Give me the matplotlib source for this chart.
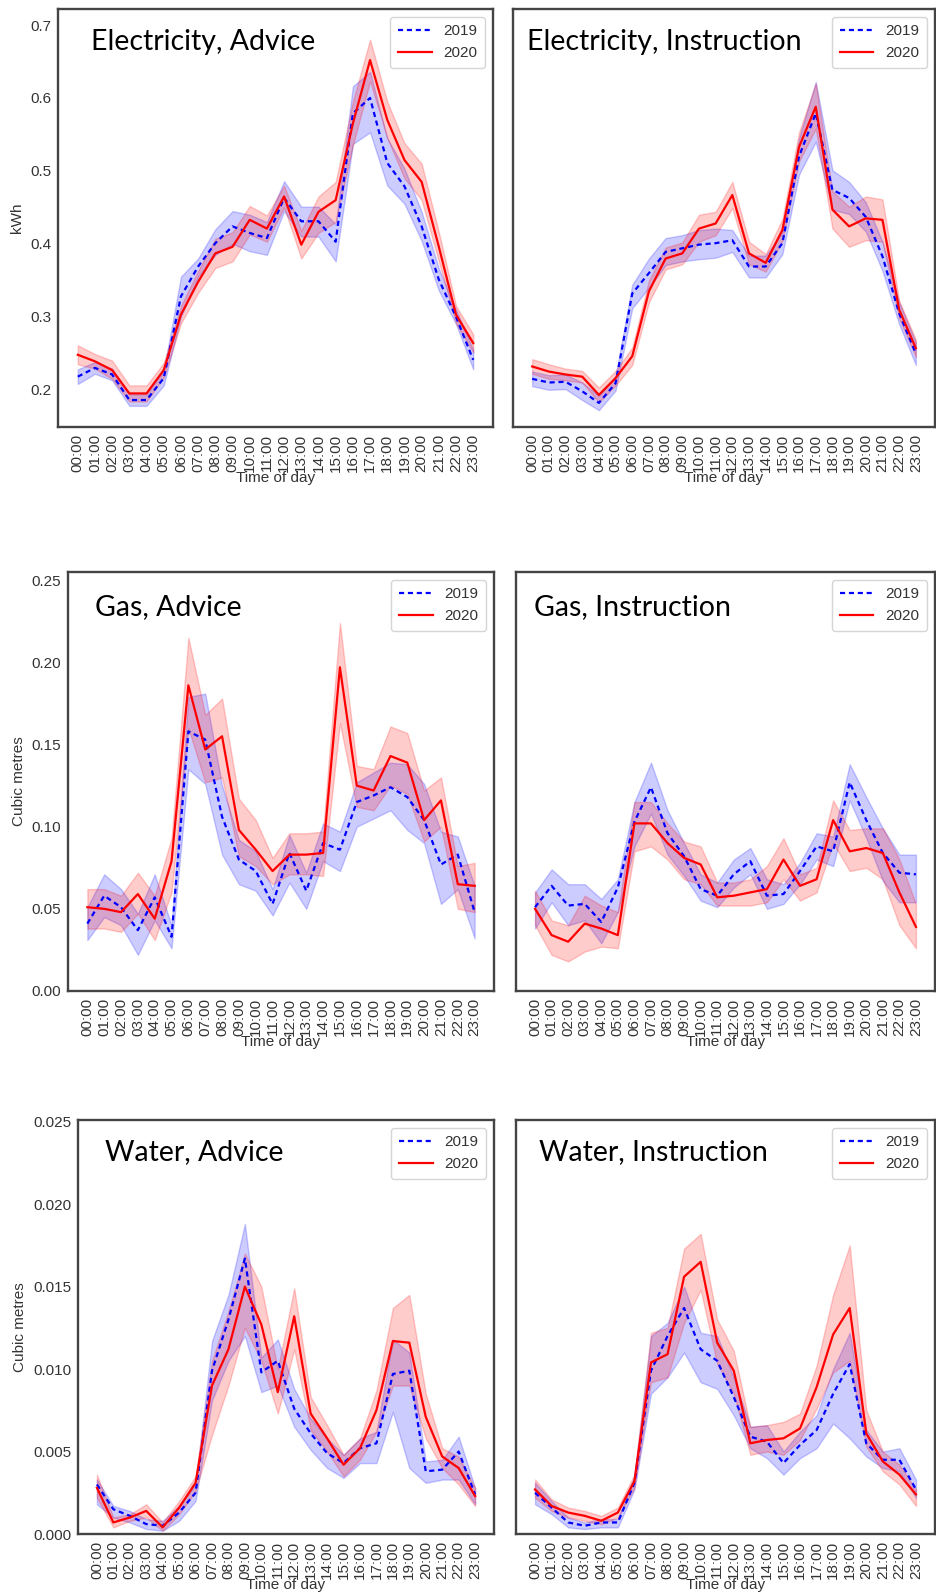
import matplotlib
matplotlib.use("Agg")
import matplotlib.pyplot as plt

# ======================
# STYLE
# ======================
plt.rcParams.update({
    "font.family": ["Liberation Sans", "DejaVu Sans"],
    "font.size": 11,
    "text.color": "#333333",
    "axes.labelcolor": "#333333",
    "xtick.color": "#333333",
    "ytick.color": "#333333",
    "axes.edgecolor": "#444444",
    "axes.linewidth": 1.7,
    "xtick.major.size": 0,
    "ytick.major.size": 0,
    "xtick.major.pad": 5,
    "ytick.major.pad": 5,
})
TITLE_FONT = "Lato"
DASHED = (0, (2.3, 1.7))

# ======================
# DATA
# ======================
hours = ["%02d:00" % h for h in range(24)]

# Electricity, Advice (kWh)
elec_adv_2019 = [0.218, 0.230, 0.221, 0.186, 0.186, 0.216, 0.328, 0.369, 0.401, 0.424, 0.415, 0.408,
                 0.463, 0.431, 0.431, 0.403, 0.579, 0.600, 0.511, 0.479, 0.424, 0.351, 0.300, 0.241]
elec_adv_2019_lo = [0.208, 0.222, 0.213, 0.178, 0.178, 0.206, 0.300, 0.355, 0.385, 0.400, 0.390, 0.385,
                    0.445, 0.410, 0.410, 0.376, 0.537, 0.553, 0.480, 0.455, 0.404, 0.336, 0.290, 0.228]
elec_adv_2019_hi = [0.228, 0.238, 0.229, 0.194, 0.194, 0.226, 0.355, 0.380, 0.420, 0.445, 0.440, 0.430,
                    0.486, 0.451, 0.451, 0.427, 0.616, 0.636, 0.545, 0.503, 0.444, 0.366, 0.310, 0.255]
elec_adv_2020 = [0.248, 0.239, 0.227, 0.195, 0.195, 0.227, 0.303, 0.348, 0.387, 0.396, 0.433, 0.421,
                 0.465, 0.399, 0.444, 0.460, 0.565, 0.652, 0.570, 0.515, 0.485, 0.396, 0.303, 0.264]
elec_adv_2020_lo = [0.235, 0.229, 0.215, 0.184, 0.184, 0.217, 0.291, 0.333, 0.367, 0.376, 0.413, 0.403,
                    0.450, 0.380, 0.415, 0.430, 0.535, 0.623, 0.545, 0.490, 0.460, 0.376, 0.291, 0.251]
elec_adv_2020_hi = [0.261, 0.249, 0.240, 0.206, 0.206, 0.237, 0.315, 0.363, 0.407, 0.416, 0.452, 0.439,
                    0.480, 0.418, 0.465, 0.485, 0.595, 0.680, 0.595, 0.538, 0.510, 0.416, 0.315, 0.276]

# Electricity, Instruction (kWh)
elec_ins_2019 = [0.215, 0.210, 0.211, 0.198, 0.182, 0.209, 0.332, 0.360, 0.389, 0.394, 0.399, 0.401,
                 0.405, 0.369, 0.369, 0.401, 0.520, 0.579, 0.474, 0.463, 0.437, 0.383, 0.305, 0.250]
elec_ins_2019_lo = [0.205, 0.200, 0.201, 0.186, 0.172, 0.199, 0.312, 0.340, 0.371, 0.376, 0.379, 0.381,
                    0.389, 0.354, 0.354, 0.386, 0.495, 0.540, 0.447, 0.441, 0.417, 0.363, 0.290, 0.234]
elec_ins_2019_hi = [0.225, 0.220, 0.221, 0.210, 0.192, 0.219, 0.344, 0.380, 0.408, 0.412, 0.419, 0.421,
                    0.419, 0.384, 0.384, 0.416, 0.545, 0.622, 0.501, 0.485, 0.457, 0.403, 0.320, 0.265]
elec_ins_2020 = [0.232, 0.225, 0.221, 0.218, 0.193, 0.216, 0.246, 0.335, 0.380, 0.387, 0.421, 0.428,
                 0.467, 0.387, 0.374, 0.419, 0.533, 0.588, 0.447, 0.424, 0.435, 0.433, 0.310, 0.257]
elec_ins_2020_lo = [0.222, 0.215, 0.213, 0.210, 0.183, 0.206, 0.234, 0.320, 0.365, 0.372, 0.403, 0.412,
                    0.449, 0.372, 0.362, 0.404, 0.513, 0.558, 0.421, 0.396, 0.405, 0.403, 0.298, 0.245]
elec_ins_2020_hi = [0.242, 0.235, 0.229, 0.226, 0.203, 0.226, 0.258, 0.350, 0.395, 0.402, 0.440, 0.444,
                    0.485, 0.403, 0.386, 0.434, 0.553, 0.620, 0.472, 0.451, 0.465, 0.461, 0.322, 0.269]

# Gas, Advice (cubic metres)
gas_adv_2019 = [0.041, 0.058, 0.051, 0.037, 0.057, 0.033, 0.158, 0.153, 0.106, 0.080, 0.073, 0.053,
                0.084, 0.061, 0.090, 0.086, 0.115, 0.119, 0.124, 0.118, 0.104, 0.077, 0.083, 0.048]
gas_adv_2019_lo = [0.031, 0.045, 0.040, 0.022, 0.043, 0.026, 0.135, 0.126, 0.083, 0.065, 0.061, 0.046,
                   0.066, 0.050, 0.079, 0.073, 0.100, 0.105, 0.110, 0.098, 0.090, 0.053, 0.062, 0.032]
gas_adv_2019_hi = [0.051, 0.071, 0.062, 0.047, 0.071, 0.040, 0.179, 0.181, 0.125, 0.092, 0.085, 0.062,
                   0.095, 0.072, 0.102, 0.097, 0.127, 0.133, 0.139, 0.138, 0.126, 0.097, 0.094, 0.064]
gas_adv_2020 = [0.051, 0.050, 0.048, 0.059, 0.044, 0.079, 0.186, 0.147, 0.155, 0.098, 0.086, 0.073,
                0.083, 0.083, 0.084, 0.197, 0.125, 0.122, 0.143, 0.139, 0.104, 0.116, 0.065, 0.064]
gas_adv_2020_lo = [0.038, 0.038, 0.036, 0.047, 0.031, 0.060, 0.160, 0.127, 0.130, 0.082, 0.076, 0.065,
                   0.071, 0.071, 0.070, 0.163, 0.112, 0.110, 0.125, 0.120, 0.091, 0.100, 0.050, 0.048]
gas_adv_2020_hi = [0.062, 0.062, 0.058, 0.072, 0.058, 0.093, 0.215, 0.168, 0.178, 0.117, 0.104, 0.081,
                   0.096, 0.096, 0.097, 0.224, 0.137, 0.135, 0.161, 0.157, 0.122, 0.130, 0.076, 0.078]

# Gas, Instruction (cubic metres)
gas_ins_2019 = [0.051, 0.064, 0.052, 0.053, 0.042, 0.063, 0.103, 0.124, 0.096, 0.082, 0.062, 0.058,
                0.071, 0.079, 0.058, 0.059, 0.073, 0.088, 0.085, 0.127, 0.104, 0.084, 0.072, 0.071]
gas_ins_2019_lo = [0.038, 0.054, 0.040, 0.043, 0.029, 0.048, 0.088, 0.108, 0.083, 0.070, 0.055, 0.051,
                   0.063, 0.071, 0.050, 0.053, 0.065, 0.080, 0.076, 0.116, 0.093, 0.067, 0.054, 0.054]
gas_ins_2019_hi = [0.060, 0.074, 0.065, 0.065, 0.056, 0.068, 0.115, 0.139, 0.110, 0.090, 0.071, 0.066,
                   0.080, 0.087, 0.068, 0.065, 0.078, 0.096, 0.094, 0.138, 0.118, 0.099, 0.083, 0.083]
gas_ins_2020 = [0.050, 0.034, 0.030, 0.041, 0.038, 0.034, 0.102, 0.102, 0.090, 0.081, 0.077, 0.057,
                0.058, 0.060, 0.062, 0.080, 0.064, 0.068, 0.104, 0.085, 0.087, 0.084, 0.060, 0.039]
gas_ins_2020_lo = [0.040, 0.022, 0.018, 0.024, 0.027, 0.026, 0.085, 0.088, 0.080, 0.068, 0.065, 0.052,
                   0.052, 0.052, 0.054, 0.068, 0.055, 0.060, 0.090, 0.073, 0.075, 0.068, 0.040, 0.026]
gas_ins_2020_hi = [0.061, 0.043, 0.040, 0.058, 0.052, 0.048, 0.115, 0.115, 0.102, 0.091, 0.088, 0.066,
                   0.066, 0.068, 0.076, 0.093, 0.071, 0.075, 0.116, 0.098, 0.099, 0.099, 0.080, 0.053]

# Water, Advice (cubic metres)
water_adv_2019 = [0.0030, 0.0015, 0.0011, 0.0006, 0.0005, 0.0013, 0.0025, 0.0099, 0.0130, 0.0167, 0.0098, 0.0105,
                  0.0076, 0.0061, 0.0049, 0.0043, 0.0052, 0.0055, 0.0097, 0.0099, 0.0038, 0.0039, 0.0050, 0.0024]
water_adv_2019_lo = [0.0018, 0.0010, 0.0007, 0.0003, 0.0002, 0.0008, 0.0020, 0.0081, 0.0105, 0.0120, 0.0086, 0.0090,
                     0.0065, 0.0051, 0.0040, 0.0034, 0.0043, 0.0043, 0.0074, 0.0040, 0.0031, 0.0033, 0.0033, 0.0018]
water_adv_2019_hi = [0.0033, 0.0017, 0.0014, 0.0009, 0.0008, 0.0017, 0.0030, 0.0117, 0.0145, 0.0188, 0.0107, 0.0118,
                     0.0088, 0.0070, 0.0058, 0.0048, 0.0058, 0.0062, 0.0118, 0.0110, 0.0044, 0.0045, 0.0059, 0.0028]
water_adv_2020 = [0.0028, 0.0007, 0.0010, 0.0014, 0.0004, 0.0016, 0.0031, 0.0090, 0.0112, 0.0150, 0.0127, 0.0086,
                  0.0132, 0.0073, 0.0058, 0.0042, 0.0052, 0.0075, 0.0117, 0.0116, 0.0071, 0.0047, 0.0040, 0.0023]
water_adv_2020_lo = [0.0022, 0.0004, 0.0008, 0.0010, 0.0002, 0.0012, 0.0026, 0.0060, 0.0090, 0.0125, 0.0105, 0.0073,
                     0.0112, 0.0063, 0.0050, 0.0035, 0.0045, 0.0062, 0.0090, 0.0090, 0.0058, 0.0040, 0.0030, 0.0017]
water_adv_2020_hi = [0.0036, 0.0010, 0.0012, 0.0018, 0.0007, 0.0020, 0.0035, 0.0105, 0.0135, 0.0170, 0.0150, 0.0100,
                     0.0149, 0.0083, 0.0066, 0.0048, 0.0058, 0.0087, 0.0137, 0.0145, 0.0085, 0.0052, 0.0047, 0.0028]

# Water, Instruction (cubic metres)
water_ins_2019 = [0.0025, 0.0016, 0.0007, 0.0005, 0.0007, 0.0007, 0.0031, 0.0099, 0.0120, 0.0137, 0.0112, 0.0105,
                  0.0083, 0.0059, 0.0056, 0.0043, 0.0054, 0.0063, 0.0085, 0.0103, 0.0055, 0.0045, 0.0045, 0.0027]
water_ins_2019_lo = [0.0018, 0.0012, 0.0004, 0.0003, 0.0004, 0.0004, 0.0027, 0.0085, 0.0095, 0.0110, 0.0092, 0.0088,
                     0.0072, 0.0052, 0.0046, 0.0036, 0.0046, 0.0052, 0.0067, 0.0058, 0.0047, 0.0040, 0.0038, 0.0022]
water_ins_2019_hi = [0.0031, 0.0020, 0.0010, 0.0007, 0.0009, 0.0009, 0.0035, 0.0120, 0.0128, 0.0150, 0.0122, 0.0120,
                     0.0095, 0.0065, 0.0066, 0.0050, 0.0062, 0.0072, 0.0100, 0.0122, 0.0063, 0.0050, 0.0052, 0.0033]
water_ins_2020 = [0.0027, 0.0017, 0.0013, 0.0011, 0.0008, 0.0013, 0.0032, 0.0104, 0.0109, 0.0156, 0.0165, 0.0116,
                  0.0099, 0.0055, 0.0057, 0.0058, 0.0064, 0.0089, 0.0121, 0.0137, 0.0061, 0.0044, 0.0036, 0.0024]
water_ins_2020_lo = [0.0022, 0.0014, 0.0010, 0.0008, 0.0006, 0.0010, 0.0028, 0.0092, 0.0095, 0.0128, 0.0148, 0.0103,
                     0.0085, 0.0048, 0.0050, 0.0048, 0.0057, 0.0076, 0.0098, 0.0105, 0.0053, 0.0038, 0.0030, 0.0017]
water_ins_2020_hi = [0.0033, 0.0021, 0.0016, 0.0014, 0.0011, 0.0016, 0.0036, 0.0122, 0.0125, 0.0173, 0.0182, 0.0130,
                     0.0111, 0.0065, 0.0066, 0.0068, 0.0073, 0.0102, 0.0145, 0.0175, 0.0075, 0.0050, 0.0042, 0.0027]

# ======================
# LAYOUT
# ======================
W, H = 937, 1595
fig = plt.figure(figsize=(W / 100, H / 100), dpi=100)


def px_axes(left, top, right, bottom):
    # axes box given in pixel edges, measured from the top-left corner
    return fig.add_axes([left / W, 1 - bottom / H, (right - left) / W, (bottom - top) / H])


# (box, title, title x, title baseline, ylabel, ylim, series)
panels = [
    ((58, 9, 493, 427), "Electricity, Advice", 0.076, 0.902, "kWh", (0.149, 0.722),
     (elec_adv_2019, elec_adv_2019_lo, elec_adv_2019_hi, elec_adv_2020, elec_adv_2020_lo, elec_adv_2020_hi)),
    ((513, 9, 935, 427), "Electricity, Instruction", 0.033, 0.902, None, (0.149, 0.722),
     (elec_ins_2019, elec_ins_2019_lo, elec_ins_2019_hi, elec_ins_2020, elec_ins_2020_lo, elec_ins_2020_hi)),
    ((68, 572, 494, 991), "Gas, Advice", 0.063, 0.897, "Cubic metres", (0, 0.255),
     (gas_adv_2019, gas_adv_2019_lo, gas_adv_2019_hi, gas_adv_2020, gas_adv_2020_lo, gas_adv_2020_hi)),
    ((516, 572, 935, 991), "Gas, Instruction", 0.043, 0.897, None, (0, 0.255),
     (gas_ins_2019, gas_ins_2019_lo, gas_ins_2019_hi, gas_ins_2020, gas_ins_2020_lo, gas_ins_2020_hi)),
    ((78, 1120, 494, 1534), "Water, Advice", 0.065, 0.903, "Cubic metres", (0, 0.0251),
     (water_adv_2019, water_adv_2019_lo, water_adv_2019_hi, water_adv_2020, water_adv_2020_lo, water_adv_2020_hi)),
    ((516, 1120, 935, 1534), "Water, Instruction", 0.055, 0.903, None, (0, 0.0251),
     (water_ins_2019, water_ins_2019_lo, water_ins_2019_hi, water_ins_2020, water_ins_2020_lo, water_ins_2020_hi)),
]

x = list(range(len(hours)))

for box, title, tx, ty, ylabel, ylim, series in panels:
    m19, lo19, hi19, m20, lo20, hi20 = series
    ax = px_axes(*box)

    # confidence bands, then the mean lines
    ax.fill_between(x, lo19, hi19, color="blue", alpha=0.2, linewidth=1)
    ax.fill_between(x, lo20, hi20, color="red", alpha=0.2, linewidth=1)
    ax.plot(x, m19, color="blue", linestyle=DASHED, linewidth=1.6, label="2019")
    ax.plot(x, m20, color="red", linestyle="-", linewidth=1.6, label="2020")

    ax.set_xticks(x)
    ax.set_xticklabels(hours, rotation=90)
    ax.set_xlim(-1.15, 24.15)
    ax.set_ylim(*ylim)
    ax.set_xlabel("Time of day", labelpad=-1)
    if ylabel:
        ax.set_ylabel(ylabel)
    else:
        ax.tick_params(labelleft=False)

    ax.text(tx, ty, title, transform=ax.transAxes, fontsize=20.5, color="black",
            family=TITLE_FONT, va="baseline", ha="left")
    ax.legend(loc="upper right", frameon=True, fancybox=True, framealpha=1,
              edgecolor="#d6d6d6", handlelength=2.2, borderpad=0.5)

plt.savefig("out.png", dpi=100)
